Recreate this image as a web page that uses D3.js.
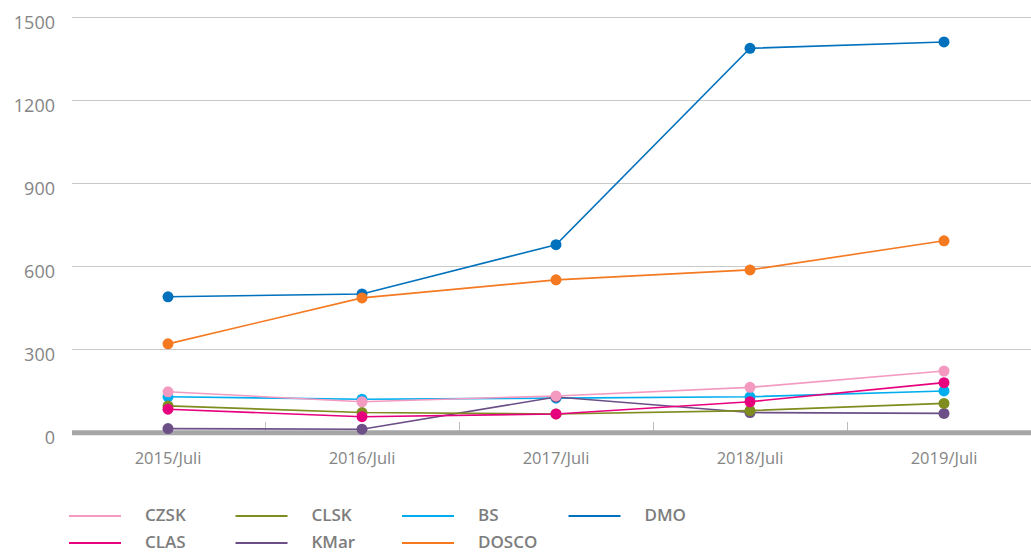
<!DOCTYPE html>
<html>
<head>
<meta charset="utf-8">
<script src="https://cdn.jsdelivr.net/npm/d3@7"></script>
<style>
  html, body { margin: 0; padding: 0; background: #fff; }
  svg { display: block; }
</style>
</head>
<body>
<svg id="chart" width="1031" height="553"></svg>
<script>
// Years on the x axis
const years = ["2015/Juli", "2016/Juli", "2017/Juli", "2018/Juli", "2019/Juli"];
const yTicks = [0, 300, 600, 900, 1200, 1500];

// Series values, one array per organisation
const CZSK  = [147, 111, 132, 163, 222];
const CLAS  = [84, 57, 67, 111, 180];
const CLSK  = [96, 72, 67, 79, 105];
const KMar  = [14, 12, 128, 72, 69];
const BS    = [129, 120, 124, 129, 150];
const DOSCO = [320, 486, 551, 587, 692];
const DMO   = [490, 500, 678, 1387, 1410];

const seriesNames  = ["CZSK", "CLAS", "CLSK", "KMar", "BS", "DOSCO", "DMO"];
const seriesValues = [CZSK, CLAS, CLSK, KMar, BS, DOSCO, DMO];
const seriesColors = ["#f49ac1", "#e6007e", "#7f8c1f", "#6b4f86", "#00aeef", "#f47920", "#0071bc"];

const series = seriesNames.map((n, i) => ({ name: n, values: seriesValues[i], color: seriesColors[i] }));

const svg = d3.select("#chart");

const x = d3.scaleBand().domain(years).range([71, 1041]).padding(0);
const y = d3.scaleLinear().domain([0, 1500]).range([432.5, 17]);

// Horizontal gridlines
svg.append("g")
  .selectAll("line")
  .data(yTicks.filter(d => d > 0))
  .join("line")
  .attr("x1", 72).attr("x2", 1031)
  .attr("y1", d => Math.round(y(d)) + 0.5).attr("y2", d => Math.round(y(d)) + 0.5)
  .attr("stroke", "#c9c9c9").attr("stroke-width", 1.2);

// Y axis labels
svg.append("g")
  .selectAll("text")
  .data(yTicks)
  .join("text")
  .attr("x", 55).attr("y", d => y(d) + 7)
  .attr("text-anchor", "end").attr("dominant-baseline", "middle")
  .attr("font-family", "'Open Sans', sans-serif").attr("font-size", 18)
  .attr("fill", "#858585")
  .text(d => d);

// Band boundary ticks
const bounds = years.slice(1).map(d => x(d));
svg.append("g")
  .selectAll("line")
  .data(bounds)
  .join("line")
  .attr("x1", d => Math.round(d) + 0.5).attr("x2", d => Math.round(d) + 0.5)
  .attr("y1", 422).attr("y2", 432)
  .attr("stroke", "#bdbdbd").attr("stroke-width", 1);

// Baseline
svg.append("line")
  .attr("x1", 72).attr("x2", 1031)
  .attr("y1", y(0) + 0.3).attr("y2", y(0) + 0.3)
  .attr("stroke", "#a6a6a9").attr("stroke-width", 5);

// X axis labels
svg.append("g")
  .selectAll("text")
  .data(years)
  .join("text")
  .attr("x", d => x(d) + x.bandwidth() / 2).attr("y", 460)
  .attr("text-anchor", "middle").attr("dominant-baseline", "middle")
  .attr("font-family", "'Open Sans', sans-serif").attr("font-size", 16.5)
  .attr("fill", "#858585")
  .text(d => d);

// Lines and markers (drawn back to front)
const line = d3.line()
  .x((d, i) => x(years[i]) + x.bandwidth() / 2)
  .y(d => y(d));

const drawOrder = series.slice().reverse();
const groups = svg.append("g")
  .selectAll("g")
  .data(drawOrder)
  .join("g");

groups.append("path")
  .attr("d", d => line(d.values))
  .attr("fill", "none")
  .attr("stroke", d => d.color)
  .attr("stroke-width", 1.6);

groups.selectAll("circle")
  .data(d => d.values.map((v, i) => ({ v, i, color: d.color })))
  .join("circle")
  .attr("cx", d => x(years[d.i]) + x.bandwidth() / 2)
  .attr("cy", d => y(d.v))
  .attr("r", 5.5)
  .attr("fill", d => d.color);

// Legend
const legendOrder = ["CZSK", "CLSK", "BS", "DMO", "CLAS", "KMar", "DOSCO"];
const legendItems = legendOrder.map((n, k) => {
  const s = series.find(t => t.name === n);
  return { name: n, color: s.color, col: k % 4, row: Math.floor(k / 4) };
});
const legend = svg.append("g")
  .selectAll("g")
  .data(legendItems)
  .join("g")
  .attr("transform", d => `translate(${69 + d.col * 166.5},${516 + d.row * 27})`);

legend.append("line")
  .attr("x1", 0).attr("x2", 52)
  .attr("stroke", d => d.color).attr("stroke-width", 2);

legend.append("text")
  .attr("x", 76).attr("y", 0.5)
  .attr("dominant-baseline", "middle")
  .attr("font-family", "'Open Sans', sans-serif")
  .attr("font-weight", 600).attr("font-size", 17)
  .attr("fill", "#7d7d7d")
  .text(d => d.name);
</script>
</body>
</html>
